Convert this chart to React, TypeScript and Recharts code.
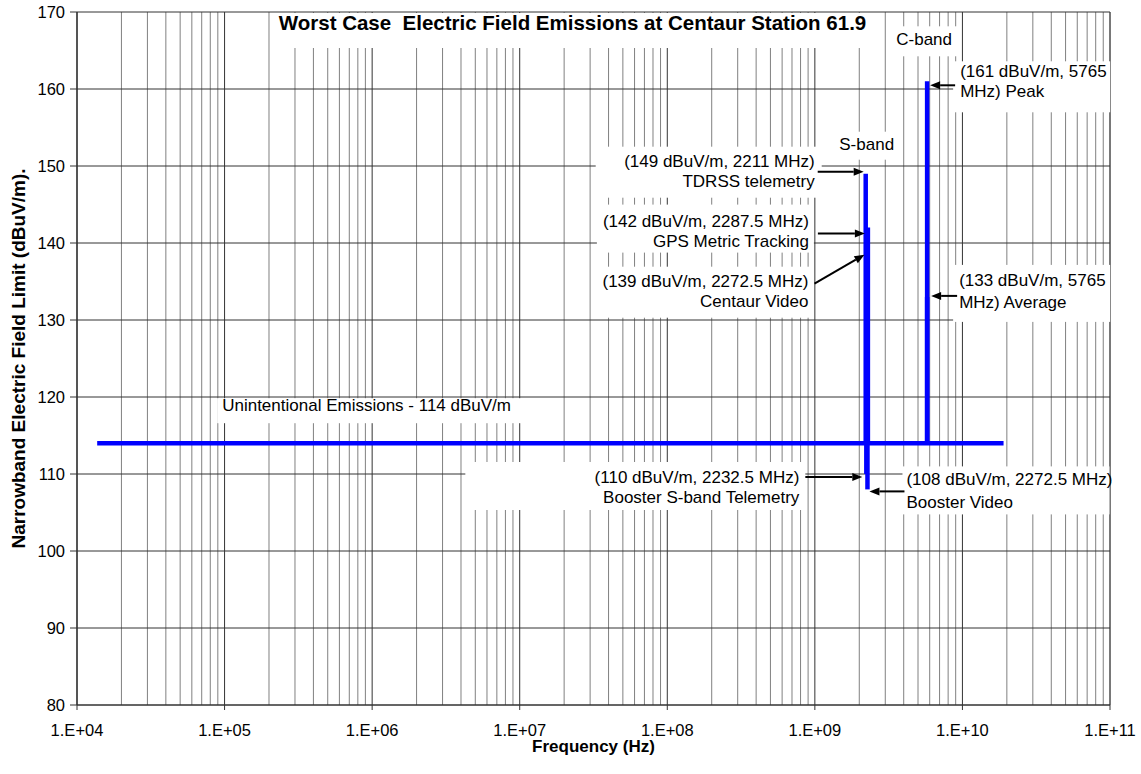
import React from "react";
import { LineChart, Line, XAxis, YAxis, CartesianGrid, ReferenceDot } from "recharts";

const FONT = '"Liberation Sans", Arial, sans-serif';

// axes
const freqTicks = [1e4, 1e5, 1e6, 1e7, 1e8, 1e9, 1e10, 1e11];
const levelTicks = [80, 90, 100, 110, 120, 130, 140, 150, 160, 170];

// minor log grid lines (2..9 of every decade)
const minorTicks: number[] = [];
for (let d = 4; d < 11; d++) for (let m = 2; m <= 9; m++) minorTicks.push(m * Math.pow(10, d));

// unintentional emissions floor
const floorLevel = 114;
const floorStartHz = 1.37e4;
const floorEndHz = 1.9e10;

// intentional emitters
const emitterNames = [
  "TDRSS telemetry",
  "GPS Metric Tracking",
  "Centaur Video",
  "Booster S-band Telemetry",
  "Booster Video",
  "C-band Peak",
  "C-band Average",
];
const emitterMHz = [2211, 2287.5, 2272.5, 2232.5, 2272.5, 5765, 5765];
const emitterLevel = [149, 142, 139, 110, 108, 161, 133];

type Note = {
  lines: string[];
  anchor: "start" | "end" | "middle";
  tx: number;
  ty: number[];
  arrow?: [number, number, number, number];
  box: [number, number, number, number];
};

// label placement, offsets in px from the point they describe
const notes: { at: number | "floor"; note: Note }[] = [
  { at: 0, note: { lines: ["(149 dBuV/m, 2211 MHz)", "TDRSS telemetry"], anchor: "end", tx: -51, ty: [-12, 8], arrow: [-48, -2, -2, -2], box: [-270, -27, -44, 24] } },
  { at: 0, note: { lines: ["S-band"], anchor: "middle", tx: 1, ty: [-29], box: [-31, -42, 34, -14] } },
  { at: 1, note: { lines: ["(142 dBuV/m, 2287.5 MHz)", "GPS Metric Tracking"], anchor: "end", tx: -59, ty: [-6, 14], arrow: [-50, 6, -3, 6], box: [-271, -23, -54, 25] } },
  { at: 2, note: { lines: ["(139 dBuV/m, 2272.5 MHz)", "Centaur Video"], anchor: "end", tx: -59, ty: [31, 51], arrow: [-53, 33, -3, 4], box: [-271, 16, -56, 67] } },
  { at: 3, note: { lines: ["(110 dBuV/m, 2232.5 MHz)", "Booster S-band Telemetry"], anchor: "end", tx: -67, ty: [3, 23], arrow: [-61, 3, -4, 3], box: [-401, -12, -61, 36] } },
  { at: 4, note: { lines: ["(108 dBuV/m, 2272.5 MHz)", "Booster Video"], anchor: "start", tx: 39, ty: [-10, 13], arrow: [37, 2, 2, 2], box: [35, -23, 242, 25] } },
  { at: 5, note: { lines: ["(161 dBuV/m, 5765", "MHz) Peak"], anchor: "start", tx: 33, ty: [-10, 10], arrow: [28, 4, 3, 4], box: [26, -20, 183, 31] } },
  { at: 5, note: { lines: ["C-band"], anchor: "middle", tx: -3, ty: [-42], box: [-34, -55, 30, -25] } },
  { at: 6, note: { lines: ["(133 dBuV/m, 5765", "MHz) Average"], anchor: "start", tx: 32, ty: [-16.5, 5.5], arrow: [30, -1, 4, -1], box: [26, -32, 183, 25] } },
  { at: "floor", note: { lines: ["Unintentional Emissions - 114 dBuV/m"], anchor: "start", tx: 125, ty: [-38], box: [120, -45, 426, -20] } },
];

function Arrow({ x1, y1, x2, y2 }: { x1: number; y1: number; x2: number; y2: number }) {
  const len = Math.hypot(x2 - x1, y2 - y1);
  const ux = (x2 - x1) / len;
  const uy = (y2 - y1) / len;
  const hl = 10;
  const hw = 4;
  const bx = x2 - ux * hl;
  const by = y2 - uy * hl;
  return (
    <g>
      <line x1={x1} y1={y1} x2={bx} y2={by} stroke="#000" strokeWidth={2} />
      <polygon
        points={`${x2},${y2} ${bx - uy * hw},${by + ux * hw} ${bx + uy * hw},${by - ux * hw}`}
        fill="#000"
      />
    </g>
  );
}

const noteShape = (n: Note) => (props: any) => {
  const { cx, cy } = props;
  if (cx == null || cy == null) return <g />;
  const [b0, b1, b2, b3] = n.box;
  return (
    <g>
      <rect x={cx + b0} y={cy + b1} width={b2 - b0} height={b3 - b1} fill="#fff" />
      {n.lines.map((t, i) => (
        <text
          key={i}
          x={cx + n.tx}
          y={cy + n.ty[i]}
          textAnchor={n.anchor}
          dominantBaseline="central"
          fontSize={17}
          fill="#000"
          fontFamily={FONT}
        >
          {t}
        </text>
      ))}
      {n.arrow && (
        <Arrow x1={cx + n.arrow[0]} y1={cy + n.arrow[1]} x2={cx + n.arrow[2]} y2={cy + n.arrow[3]} />
      )}
    </g>
  );
};

const YLabel = (props: any) => {
  const vb = props.viewBox || { x: 0, y: 12, width: 77, height: 693 };
  const x = vb.x + 18;
  const y = vb.y + vb.height / 2;
  return (
    <text
      x={x}
      y={y}
      transform={`rotate(-90, ${x}, ${y})`}
      textAnchor="middle"
      dominantBaseline="central"
      fontSize={19}
      fontWeight="bold"
      fill="#000"
    >
      Narrowband Electric Field Limit (dBuV/m).
    </text>
  );
};

const fmtFreq = (v: number) => "1.E+" + String(Math.round(Math.log10(v))).padStart(2, "0");

export default function App() {
  const floorData = [
    { f: floorStartHz, v: floorLevel },
    { f: floorEndHz, v: floorLevel },
  ];
  const emitterData = emitterMHz.map((mhz, i) => [
    { f: mhz * 1e6, v: emitterLevel[i] },
    { f: mhz * 1e6, v: floorLevel },
  ]);

  return (
    <div style={{ position: "absolute", left: 0, top: 0, width: 1141, height: 774, fontFamily: FONT, background: "#fff" }}>
      <LineChart width={1141} height={774} margin={{ top: 12, right: 31, bottom: 9, left: 0 }}>
        <CartesianGrid xAxisId="minor" horizontal={false} stroke="#808080" strokeWidth={1} />
        <CartesianGrid stroke="#333" strokeWidth={1} />
        <XAxis
          xAxisId="minor"
          dataKey="f"
          type="number"
          scale="log"
          domain={[1e4, 1e11]}
          ticks={minorTicks}
          interval={0}
          allowDataOverflow
          hide
        />
        <XAxis
          dataKey="f"
          type="number"
          scale="log"
          domain={[1e4, 1e11]}
          ticks={freqTicks}
          interval={0}
          tickFormatter={fmtFreq}
          allowDataOverflow
          height={60}
          tickSize={5}
          tickMargin={14}
          stroke="#333"
          tick={{ fill: "#000", fontSize: 16.5 }}
          label={{ value: "Frequency (Hz)", position: "insideBottom", offset: 13, fill: "#000", fontSize: 17, fontWeight: "bold" }}
        />
        <YAxis
          type="number"
          domain={[80, 170]}
          ticks={levelTicks}
          interval={0}
          width={77}
          tickSize={7}
          tickMargin={5}
          stroke="#333"
          tick={{ fill: "#000", fontSize: 16.5 }}
          label={<YLabel />}
        />
        <Line
          data={floorData}
          dataKey="v"
          name="Unintentional Emissions"
          stroke="#0000ff"
          strokeWidth={4.5}
          dot={false}
          isAnimationActive={false}
        />
        {emitterData.map((d, i) => (
          <Line
            key={emitterNames[i]}
            data={d}
            dataKey="v"
            name={emitterNames[i]}
            stroke="#0000ff"
            strokeWidth={4.5}
            dot={false}
            isAnimationActive={false}
          />
        ))}
        {notes.map((n, i) => {
          const x = n.at === "floor" ? floorStartHz : emitterMHz[n.at] * 1e6;
          const y = n.at === "floor" ? floorLevel : emitterLevel[n.at];
          return <ReferenceDot key={i} x={x} y={y} r={0} shape={noteShape(n.note)} />;
        })}
      </LineChart>
      <div
        style={{
          position: "absolute",
          left: 270,
          top: 13,
          width: 605,
          height: 35,
          background: "#fff",
          textAlign: "center",
          fontWeight: "bold",
          fontSize: 20.5,
          lineHeight: "20px",
          color: "#000",
          whiteSpace: "pre",
        }}
      >
        {"Worst Case  Electric Field Emissions at Centaur Station 61.9"}
      </div>
    </div>
  );
}
